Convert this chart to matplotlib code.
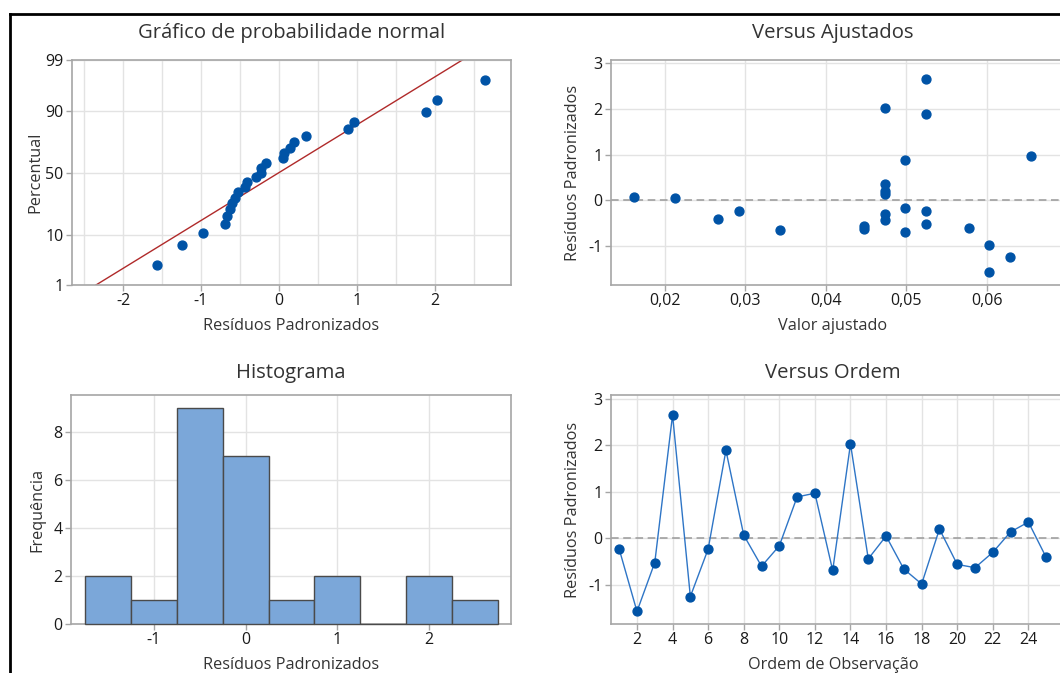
import matplotlib
matplotlib.use("Agg")
import matplotlib.pyplot as plt
import numpy as np
from statistics import NormalDist

# ---------------- data ----------------
observation = list(range(1, 26))
residuals = [-0.23, -1.57, -0.52, 2.65, -1.25, -0.23, 1.89, 0.07, -0.60, -0.16,
             0.89, 0.97, -0.69, 2.03, -0.44, 0.05, -0.66, -0.98, 0.20, -0.56,
             -0.63, -0.30, 0.14, 0.35, -0.41]
fitted = [0.0292, 0.0603, 0.0525, 0.0525, 0.0629, 0.0525, 0.0525, 0.0162, 0.0578, 0.0499,
          0.0499, 0.0655, 0.0499, 0.0474, 0.0474, 0.0213, 0.0343, 0.0603, 0.0474, 0.0448,
          0.0448, 0.0474, 0.0474, 0.0474, 0.0266]
hist_centers = [-1.5, -1.0, -0.5, 0.0, 0.5, 1.0, 1.5, 2.0, 2.5]
hist_counts = [2, 1, 9, 7, 1, 2, 0, 2, 1]
prob_ticks = [1, 10, 50, 90, 99]
fit_ticks = [0.02, 0.03, 0.04, 0.05, 0.06]
fit_ticklabels = ["0,02", "0,03", "0,04", "0,05", "0,06"]
order_ticks = [2, 4, 6, 8, 10, 12, 14, 16, 18, 20, 22, 24]

titles = ["Gráfico de probabilidade normal", "Versus Ajustados", "Histograma", "Versus Ordem"]

# ---------------- style ----------------
FONT = "Open Sans"
plt.rcParams["font.family"] = [FONT, "DejaVu Sans"]
TXT = "#333333"
SPINE = "#a6a6a6"
GRID = "#e3e3e3"
BLUE = "#0053a6"
LINEBLUE = "#2e75c6"
RED = "#b02a2a"
HISTFILL = "#7ba7d9"
HISTEDGE = "#4a4a4a"

W, H = 1060, 673
fig = plt.figure(figsize=(W / 100, H / 100), dpi=100)


def axes_px(l, t, r, b):
    return fig.add_axes([l / W, 1 - b / H, (r - l) / W, (b - t) / H])


def style(ax):
    for s in ax.spines.values():
        s.set_color(SPINE)
        s.set_linewidth(1.2)
    ax.tick_params(colors=SPINE, labelcolor="#1a1a1a", labelsize=11.5, length=4, width=1, pad=2)
    ax.grid(True, color=GRID, linewidth=1)
    ax.set_axisbelow(True)


TITLE_KW = dict(fontsize=14.6, color=TXT)
LABEL_KW = dict(fontsize=11.7, color=TXT)
MS = 6.4
RIGHT_CX = (833 - 611) / (1080 - 611)

# frame lines
fig.add_artist(plt.Line2D([9.5 / W, 9.5 / W], [0, 1 - 14 / H], color="black", lw=2, transform=fig.transFigure))
fig.add_artist(plt.Line2D([9.5 / W, 1], [1 - 14 / H, 1 - 14 / H], color="black", lw=2, transform=fig.transFigure))

nd = NormalDist()

# ---------- Panel 1: normal probability ----------
ax1 = axes_px(71.7, 60.3, 511, 285)
style(ax1)
r = np.array(residuals)
n = len(r)
rs = np.sort(r)
pct = (np.arange(1, n + 1) - 0.3) / (n + 0.4)
zs = np.array([nd.inv_cdf(p) for p in pct])
mu, sd = r.mean(), r.std(ddof=1)
zlo, zhi = nd.inv_cdf(0.01), nd.inv_cdf(0.99)
zline = np.array([zlo - 0.2, zhi + 0.2])
ax1.plot(mu + sd * zline, zline, color=RED, lw=1, zorder=2)
ax1.plot(rs, zs, "o", color=BLUE, ms=MS, mec=BLUE, zorder=3)
ax1.set_ylim(zlo, zhi)
ax1.set_yticks([nd.inv_cdf(p / 100) for p in prob_ticks])
ax1.set_yticklabels([str(p) for p in prob_ticks])
ax1.set_xlim(-2.66, 2.98)
ax1.set_xticks([-2, -1, 0, 1, 2])
ax1.set_xticklabels(["-2", "-1", "0", "1", "2"])
ax1.set_xticks(np.arange(-2.5, 3.0, 0.5), minor=True)
ax1.tick_params(which="minor", length=0)
ax1.grid(True, which="minor", axis="x", color=GRID, linewidth=1)
ax1.set_title(titles[0], pad=16, **TITLE_KW)
ax1.set_xlabel("Resíduos Padronizados", **LABEL_KW)
ax1.xaxis.set_label_coords(0.5, -0.145)
ax1.set_ylabel("Percentual", labelpad=1, **LABEL_KW)

# ---------- Panel 2: versus fitted ----------
ax2 = axes_px(611, 60.3, 1080, 285)
style(ax2)
ax2.axhline(0, color="#999999", lw=1.1, ls=(0, (5, 3)), zorder=2)
ax2.plot(fitted, residuals, "o", color=BLUE, ms=MS, mec=BLUE, zorder=3)
ax2.set_xlim(0.01329, 0.0716)
ax2.set_ylim(-1.857, 3.066)
ax2.set_xticks(fit_ticks)
ax2.set_xticklabels(fit_ticklabels)
ax2.set_yticks([-1, 0, 1, 2, 3])
ax2.set_yticklabels(["-1", "0", "1", "2", "3"])
ax2.set_title(titles[1], x=RIGHT_CX, pad=16, **TITLE_KW)
ax2.set_xlabel("Valor ajustado", **LABEL_KW)
ax2.xaxis.set_label_coords(RIGHT_CX, -0.145)
ax2.set_ylabel("Resíduos Padronizados", labelpad=5, **LABEL_KW)

# ---------- Panel 3: histogram ----------
ax3 = axes_px(70.7, 395, 511, 624)
style(ax3)
bars = ax3.bar(hist_centers, hist_counts, width=0.5, color=HISTFILL, edgecolor=HISTEDGE,
               linewidth=1, zorder=3)
for b in bars:
    b.set_clip_on(False)
ax3.set_xlim(-1.908, 2.893)
ax3.set_ylim(0, 9.53)
ax3.set_xticks([-1, 0, 1, 2])
ax3.set_xticklabels(["-1", "0", "1", "2"])
ax3.set_yticks([0, 2, 4, 6, 8])
ax3.set_yticklabels(["0", "2", "4", "6", "8"])
ax3.set_title(titles[2], pad=12, **TITLE_KW)
ax3.set_xlabel("Resíduos Padronizados", **LABEL_KW)
ax3.xaxis.set_label_coords(0.5, -0.145)
ax3.set_ylabel("Frequência", labelpad=6, **LABEL_KW)

# ---------- Panel 4: versus order ----------
ax4 = axes_px(611, 395, 1080, 624)
style(ax4)
ax4.axhline(0, color="#999999", lw=1.1, ls=(0, (5, 3)), zorder=2)
ax4.plot(observation, residuals, "-o", color=LINEBLUE, lw=1, ms=MS, mfc=BLUE, mec=BLUE, zorder=3)
ax4.set_xlim(0.54, 26.9)
ax4.set_ylim(-1.84, 3.08)
ax4.set_xticks(order_ticks)
ax4.set_xticklabels([str(v) for v in order_ticks])
ax4.set_xticks([26], minor=True)
ax4.tick_params(which="minor", length=0)
ax4.grid(True, which="minor", axis="x", color=GRID, linewidth=1)
ax4.set_yticks([-1, 0, 1, 2, 3])
ax4.set_yticklabels(["-1", "0", "1", "2", "3"])
ax4.set_title(titles[3], x=RIGHT_CX, pad=12, **TITLE_KW)
ax4.set_xlabel("Ordem de Observação", **LABEL_KW)
ax4.xaxis.set_label_coords(RIGHT_CX, -0.145)
ax4.set_ylabel("Resíduos Padronizados", labelpad=5, **LABEL_KW)

fig.savefig("out.png", dpi=100, facecolor="white")
